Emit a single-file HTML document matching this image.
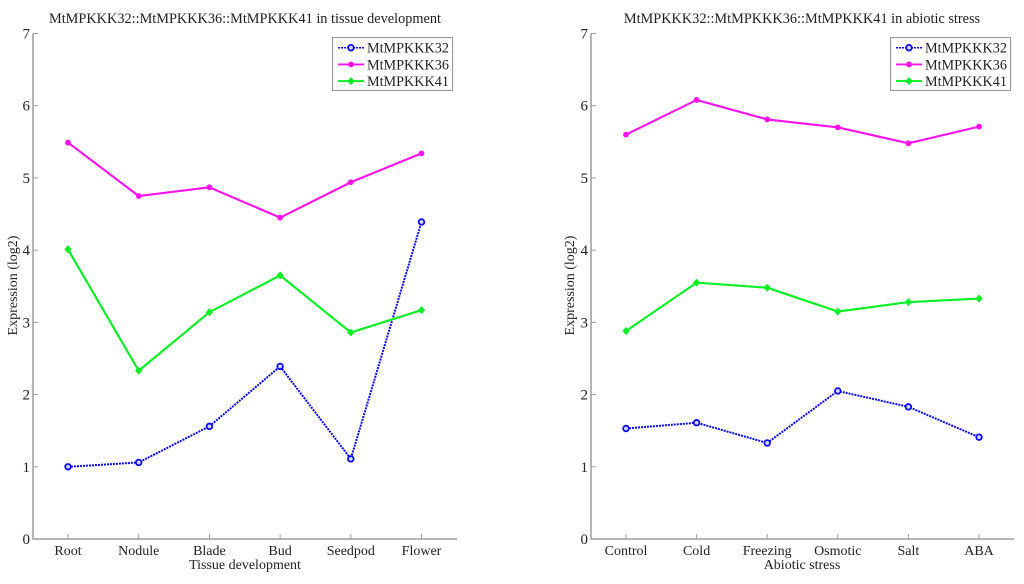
<!DOCTYPE html>
<html>
<head>
<meta charset="utf-8">
<style>
html,body{margin:0;padding:0;background:#fff;width:1024px;height:584px;overflow:hidden}
svg{display:block}
text{font-family:"Liberation Serif",serif;fill:#222}
</style>
</head>
<body>
<svg id="chart" width="1024" height="584" viewBox="0 0 1024 584" xmlns="http://www.w3.org/2000/svg"></svg>
<script>
var tissueCategories = ['Root','Nodule','Blade','Bud','Seedpod','Flower'];
var tissue32 = [1.0,1.06,1.56,2.39,1.11,4.39];
var tissue36 = [5.49,4.75,4.87,4.45,4.94,5.34];
var tissue41 = [4.01,2.33,3.14,3.65,2.86,3.17];
var stressCategories = ['Control','Cold','Freezing','Osmotic','Salt','ABA'];
var stress32 = [1.53,1.61,1.33,2.05,1.83,1.41];
var stress36 = [5.6,6.08,5.81,5.7,5.48,5.71];
var stress41 = [2.88,3.55,3.48,3.15,3.28,3.33];
var yTicks = [0,1,2,3,4,5,6,7];
var seriesNames = ['MtMPKKK32','MtMPKKK36','MtMPKKK41'];

var svg = document.getElementById('chart');
var NS = 'http://www.w3.org/2000/svg';
function mk(tag, attrs, parent, text){
  var e = document.createElementNS(NS, tag);
  for (var k in attrs) e.setAttribute(k, attrs[k]);
  if (text !== undefined) e.textContent = text;
  (parent || svg).appendChild(e);
  return e;
}
var colors = ['#0a0af0','#ff10ee','#00f020'];
var axisColor = '#9c9c9c';
var plotTop = 33.5, plotBottom = 539;

function marker(g, idx, x, y){
  var m;
  if (idx === 0) m = mk('circle',{cx:x,cy:y,r:2.8,fill:'#d8d8ff',stroke:colors[0],'stroke-width':1.8},g);
  else if (idx === 1) m = mk('circle',{cx:x,cy:y,r:2.9,fill:colors[1]},g);
  else m = mk('polygon',{points:x+','+(y-4)+' '+(x+3.6)+','+y+' '+x+','+(y+4)+' '+(x-3.6)+','+y,fill:colors[2]},g);
  
  
}

function panel(p){
  var g = mk('g',{});
  
  
  function xs(i){ return p.first + i * p.step; }
  function ys(v){ return plotBottom - (v / 7) * (plotBottom - plotTop); }

  var t = mk('text',{x:p.titleX,y:23,'font-size':14.3,'text-anchor':'middle'},g,p.title);
  
  

  var ax = mk('path',{d:'M'+p.left+' '+plotTop+'V'+plotBottom+'H'+p.right,fill:'none',stroke:axisColor,'stroke-width':1.5},g);
  
  

  yTicks.forEach(function(v){
    var y = ys(v);
    var tk = mk('line',{x1:p.left,x2:p.left+5,y1:y,y2:y,stroke:axisColor,'stroke-width':1},g);
    
    
    var l = mk('text',{x:p.left-3,y:y+5,'font-size':15,'text-anchor':'end'},g,String(v));
    
    
  });
  p.categories.forEach(function(c,i){
    var x = xs(i);
    var tk = mk('line',{x1:x,x2:x,y1:plotBottom,y2:plotBottom-5,stroke:axisColor,'stroke-width':1},g);
    
    
    var l = mk('text',{x:x,y:555,'font-size':14,'text-anchor':'middle'},g,c);
    
    
  });
  var xt = mk('text',{x:p.xTitleX,y:569,'font-size':14,'text-anchor':'middle'},g,p.xTitle);
  
  
  var yt = mk('text',{x:0,y:0,'font-size':14,'text-anchor':'middle',transform:'translate('+p.yTitleX+',285.5) rotate(-90)'},g,'Expression (log2)');
  
  

  p.series.forEach(function(vals,idx){
    var pts = vals.map(function(v,i){ return xs(i)+','+ys(v); }).join(' ');
    var attrs = {points:pts,fill:'none',stroke:colors[idx],'stroke-width':idx===0?2:2.1};
    if (idx === 0) attrs['stroke-dasharray'] = '2 1';
    var line = mk('polyline',attrs,g);
    
    
    vals.forEach(function(v,i){ marker(g,idx,xs(i),ys(v)); });
  });

  var lg = mk('g',{},g);
  
  
  var box = mk('rect',{x:p.legendX+0.5,y:37.5,width:120,height:53,fill:'#fff',stroke:axisColor,'stroke-width':1.2},lg);
  
  
  seriesNames.forEach(function(n,i){
    var y = 47.7 + i * 16.7;
    var a = {x1:p.legendX+6,x2:p.legendX+32,y1:y,y2:y,stroke:colors[i],'stroke-width':i===0?1.5:1.9};
    if (i === 0) a['stroke-dasharray'] = '2 1';
    var s = mk('line',a,lg);
    
    
    marker(lg,i,p.legendX+19,y);
    var l = mk('text',{x:p.legendX+35,y:y+5,'font-size':14.2},lg,n);
    
    
  });
}

panel({id:'tissue',title:'MtMPKKK32::MtMPKKK36::MtMPKKK41 in tissue development',titleX:245,
  left:33,right:457,first:68,step:70.7,categories:tissueCategories,xTitle:'Tissue development',xTitleX:245,yTitleX:17,
  series:[tissue32,tissue36,tissue41],legendX:332});
panel({id:'stress',title:'MtMPKKK32::MtMPKKK36::MtMPKKK41 in abiotic stress',titleX:802,
  left:591,right:1014,first:626,step:70.6,categories:stressCategories,xTitle:'Abiotic stress',xTitleX:802,yTitleX:574,
  series:[stress32,stress36,stress41],legendX:890});
</script>
</body>
</html>
